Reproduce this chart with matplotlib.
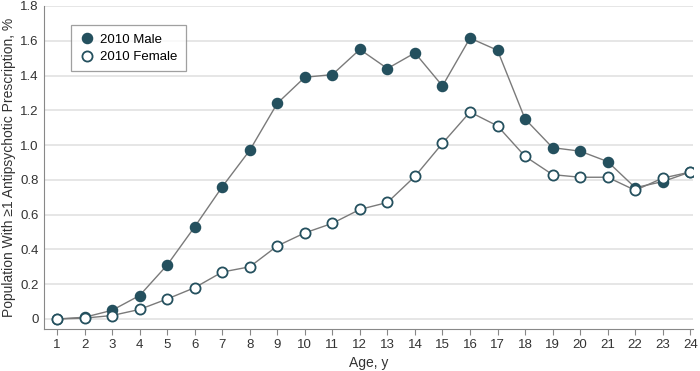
import numpy as np
import matplotlib
matplotlib.use("Agg")
import matplotlib.pyplot as plt

# age in years and % of population with >=1 antipsychotic prescription
ages = list(range(1, 25))
male_2010 = [0.0, 0.01, 0.05, 0.135, 0.31, 0.53, 0.76, 0.97, 1.24, 1.39, 1.405, 1.55,
             1.44, 1.53, 1.34, 1.615, 1.545, 1.15, 0.985, 0.965, 0.905, 0.755, 0.79, 0.845]
female_2010 = [0.0, 0.005, 0.02, 0.055, 0.115, 0.18, 0.27, 0.30, 0.42, 0.495, 0.55, 0.63,
               0.67, 0.82, 1.01, 1.19, 1.11, 0.935, 0.83, 0.815, 0.815, 0.74, 0.81, 0.845]
yticks = [0, 0.2, 0.4, 0.6, 0.8, 1.0, 1.2, 1.4, 1.6, 1.8]
ytick_labels = ["0", "0.2", "0.4", "0.6", "0.8", "1.0", "1.2", "1.4", "1.6", "1.8"]

dark = "#24505e"
linecol = "#7a7a7a"

plt.rcParams['font.family'] = ['Liberation Sans', 'DejaVu Sans']

fig = plt.figure(figsize=(7, 3.71), dpi=100)
ax = fig.add_axes([0.063, 0.113, 0.927, 0.871])

ax.plot(ages, male_2010, color=linecol, lw=1.0, marker="o", ms=7.3,
        mfc=dark, mec=dark, mew=1.0, label="2010 Male", zorder=3)
ax.plot(ages, female_2010, color=linecol, lw=1.0, marker="o", ms=7.3,
        mfc="white", mec=dark, mew=1.3, label="2010 Female", zorder=4)

ax.set_xlim(0.53, 24.1)
ax.set_ylim(-0.058, 1.8)
ax.set_xticks(ages)
ax.set_yticks(yticks)
ax.set_yticklabels(ytick_labels)
ax.yaxis.grid(True, color="#e2e2e2", lw=1.2)
ax.set_axisbelow(True)

for s in ["top", "right"]:
    ax.spines[s].set_visible(False)
for s in ["left", "bottom"]:
    ax.spines[s].set_color("#888888")
ax.tick_params(axis="x", length=4, color="#888888", labelsize=9.5, pad=3, labelcolor="#333333")
ax.tick_params(axis="y", length=0, labelsize=9.5, pad=4, labelcolor="#333333")

ax.set_xlabel("Age, y", fontsize=10, color="#333333", labelpad=4)
ax.set_ylabel("Population With \u22651 Antipsychotic Prescription, %", fontsize=10,
              color="#333333", labelpad=3)

leg = ax.legend(loc="upper left", bbox_to_anchor=(0.032, 0.96), fontsize=9.5,
                frameon=True, fancybox=False, edgecolor="#888888", borderpad=0.6,
                handletextpad=0.4, labelspacing=0.4, handlelength=1.2)
leg.get_frame().set_linewidth(0.9)
for h in leg.legend_handles:
    h.set_linestyle("none")

fig.savefig("out.png", dpi=100)
